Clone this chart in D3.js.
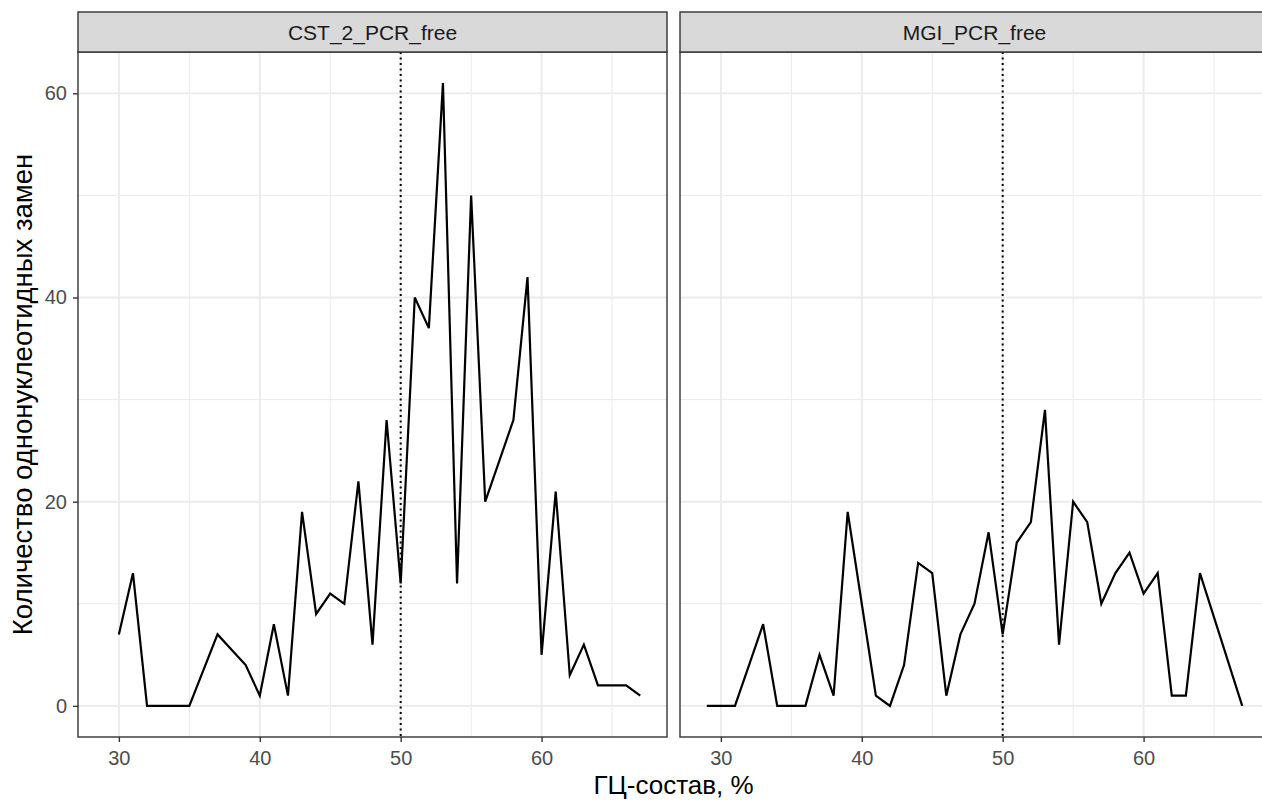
<!DOCTYPE html>
<html>
<head>
<meta charset="utf-8">
<script src="https://cdn.jsdelivr.net/npm/d3@7"></script>
<style>
  body { margin: 0; background: #fff; }
  svg { display: block; font-family: "Liberation Sans", Arial, sans-serif; }
</style>
</head>
<body>
<svg id="chart" width="1262" height="800"></svg>
<script>
// ---- data ----
const panelNames = ["CST_2_PCR_free", "MGI_PCR_free"];
const cstGC =     [30, 31, 32, 33, 34, 35, 37, 39, 40, 41, 42, 43, 44, 45, 46, 47, 48, 49, 50, 51, 52, 53, 54, 55, 56, 58, 59, 60, 61, 62, 63, 64, 65, 66, 67];
const cstCount =  [ 7, 13,  0,  0,  0,  0,  7,  4,  1,  8,  1, 19,  9, 11, 10, 22,  6, 28, 12, 40, 37, 61, 12, 50, 20, 28, 42,  5, 21,  3,  6,  2,  2,  2,  1];
const mgiGC =     [29, 30, 31, 32, 33, 34, 35, 36, 37, 38, 39, 40, 41, 42, 43, 44, 45, 46, 47, 48, 49, 50, 51, 52, 53, 54, 55, 56, 57, 58, 59, 60, 61, 62, 63, 64, 67];
const mgiCount =  [ 0,  0,  0,  4,  8,  0,  0,  0,  5,  1, 19, 10,  1,  0,  4, 14, 13,  1,  7, 10, 17,  7, 16, 18, 29,  6, 20, 18, 10, 13, 15, 11, 13,  1,  1, 13,  0];
const xTicks = [30, 40, 50, 60];
const xMinor = [35, 45, 55, 65];
const yTicks = [0, 20, 40, 60];
const yMinor = [10, 30, 50];
const refLine = 50;
const xTitle = "ГЦ-состав, %";
const yTitle = "Количество однонуклеотидных замен";

const series = [
  { name: panelNames[0], data: cstGC.map((g, i) => ({ x: g, y: cstCount[i] })) },
  { name: panelNames[1], data: mgiGC.map((g, i) => ({ x: g, y: mgiCount[i] })) }
];

// ---- layout ----
const svg = d3.select("#chart");
const panelTop = 52, panelBottom = 737, stripTop = 12;
const panelW = 589;
const panelLefts = [78, 680];
const FONT = "Liberation Sans, Arial, sans-serif";

const allX = series.flatMap(s => s.data.map(d => d.x));
const allY = series.flatMap(s => s.data.map(d => d.y));
const xr = d3.extent(allX), yr = [0, d3.max(allY)];
const xPad = (xr[1] - xr[0]) * 0.05, yPad = (yr[1] - yr[0]) * 0.05;

const y = d3.scaleLinear().domain([yr[0] - yPad, yr[1] + yPad]).range([panelBottom, panelTop]);

series.forEach((s, pi) => {
  const L = panelLefts[pi];
  const x = d3.scaleLinear().domain([xr[0] - xPad, xr[1] + xPad]).range([L, L + panelW]);
  const g = svg.append("g");

  g.append("rect").attr("x", L).attr("y", panelTop).attr("width", panelW)
    .attr("height", panelBottom - panelTop).attr("fill", "#fff");

  // minor grid
  g.selectAll(".xmin").data(xMinor).join("line")
    .attr("x1", d => x(d)).attr("x2", d => x(d)).attr("y1", panelTop).attr("y2", panelBottom)
    .attr("stroke", "#ebebeb").attr("stroke-width", 1);
  g.selectAll(".ymin").data(yMinor).join("line")
    .attr("x1", L).attr("x2", L + panelW).attr("y1", d => y(d)).attr("y2", d => y(d))
    .attr("stroke", "#ebebeb").attr("stroke-width", 1);
  // major grid
  g.selectAll(".xmaj").data(xTicks).join("line")
    .attr("x1", d => x(d)).attr("x2", d => x(d)).attr("y1", panelTop).attr("y2", panelBottom)
    .attr("stroke", "#ebebeb").attr("stroke-width", 1.9);
  g.selectAll(".ymaj").data(yTicks).join("line")
    .attr("x1", L).attr("x2", L + panelW).attr("y1", d => y(d)).attr("y2", d => y(d))
    .attr("stroke", "#ebebeb").attr("stroke-width", 1.9);

  // reference dotted line
  g.append("line").attr("x1", x(refLine)).attr("x2", x(refLine))
    .attr("y1", panelTop).attr("y2", panelBottom)
    .attr("stroke", "#000").attr("stroke-width", 2).attr("stroke-dasharray", "2,3.5");

  // data line
  g.append("path").datum(s.data)
    .attr("d", d3.line().x(d => x(d.x)).y(d => y(d.y)))
    .attr("fill", "none").attr("stroke", "#000").attr("stroke-width", 2.2)
    .attr("stroke-linejoin", "miter");

  // panel border
  g.append("rect").attr("x", L).attr("y", panelTop).attr("width", panelW)
    .attr("height", panelBottom - panelTop).attr("fill", "none")
    .attr("stroke", "#333").attr("stroke-width", 1.4);

  // strip
  g.append("rect").attr("x", L).attr("y", stripTop).attr("width", panelW)
    .attr("height", panelTop - stripTop).attr("fill", "#d9d9d9")
    .attr("stroke", "#333").attr("stroke-width", 1.4);
  g.append("text").attr("x", L + panelW / 2).attr("y", (stripTop + panelTop) / 2 + 7.5)
    .attr("text-anchor", "middle")
    .attr("font-size", 21).attr("font-family", FONT).attr("fill", "#1a1a1a").text(s.name);

  // x axis
  const xa = g.append("g").attr("transform", `translate(0,${panelBottom})`)
    .call(d3.axisBottom(x).tickValues(xTicks).tickSize(5).tickPadding(9).tickFormat(d3.format("d")));
  xa.select(".domain").remove();
  xa.selectAll("line").attr("stroke", "#333").attr("stroke-width", 1.4);
  xa.selectAll("text").attr("font-size", 20).attr("fill", "#4d4d4d").attr("font-family", FONT);

  if (pi === 0) {
    const ya = g.append("g").attr("transform", `translate(${L},0)`)
      .call(d3.axisLeft(y).tickValues(yTicks).tickSize(5).tickPadding(6).tickFormat(d3.format("d")));
    ya.select(".domain").remove();
    ya.selectAll("line").attr("stroke", "#333").attr("stroke-width", 1.4);
    ya.selectAll("text").attr("font-size", 20).attr("fill", "#4d4d4d").attr("font-family", FONT);
  }
});

// axis titles
svg.append("text").attr("x", (panelLefts[0] + panelLefts[1] + panelW) / 2).attr("y", 794)
  .attr("text-anchor", "middle").attr("font-size", 26).attr("font-family", FONT)
  .attr("fill", "#000").text(xTitle);
svg.append("text")
  .attr("transform", `translate(32,${(panelTop + panelBottom) / 2}) rotate(-90)`)
  .attr("text-anchor", "middle").attr("font-size", 27.5).attr("font-family", FONT)
  .attr("fill", "#000").text(yTitle);
</script>
</body>
</html>
